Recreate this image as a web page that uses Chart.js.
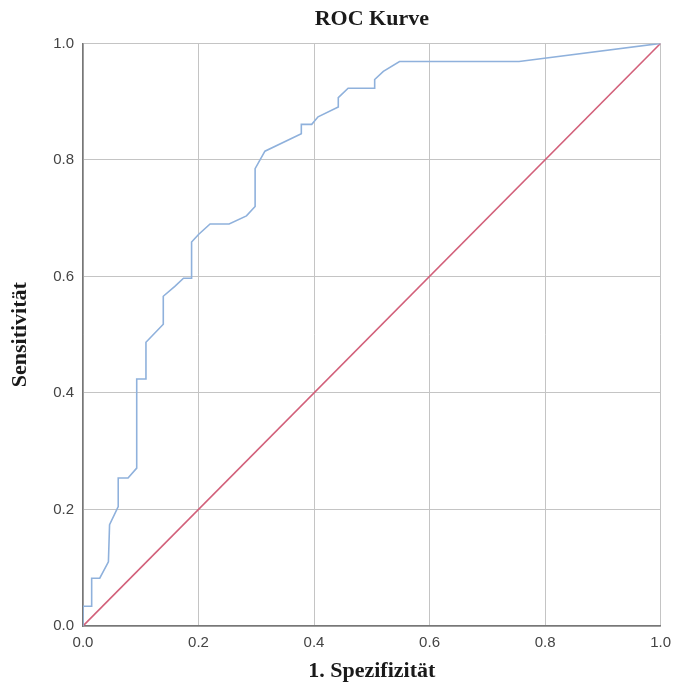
<!DOCTYPE html>
<html>
<head>
<meta charset="utf-8">
<script src="https://cdn.jsdelivr.net/npm/chart.js@4.4.1/dist/chart.umd.min.js"></script>
<style>
  html, body { margin: 0; padding: 0; background: #fff; }
  #wrap { width: 679px; height: 688px; }
</style>
</head>
<body>
<div id="wrap"><canvas id="rocChart" width="679" height="688"></canvas></div>
<script>
// ROC curve points
const falsePosRate = [0, 0, 0.015, 0.015, 0.029, 0.044, 0.046, 0.061, 0.061, 0.078,
    0.093, 0.093, 0.109, 0.109, 0.139, 0.139, 0.159, 0.174, 0.188, 0.188,
    0.2, 0.22, 0.253, 0.283, 0.298, 0.298, 0.315, 0.378, 0.378, 0.396,
    0.407, 0.442, 0.442, 0.459, 0.505, 0.505, 0.52, 0.548, 0.755, 1];
const truePosRate = [0, 0.034, 0.034, 0.082, 0.082, 0.11, 0.174, 0.205, 0.254, 0.254,
    0.271, 0.424, 0.424, 0.487, 0.518, 0.566, 0.583, 0.597, 0.597, 0.659,
    0.672, 0.69, 0.69, 0.704, 0.72, 0.785, 0.815, 0.845, 0.861, 0.861,
    0.874, 0.891, 0.907, 0.923, 0.923, 0.938, 0.952, 0.969, 0.969, 1];

// reference diagonal
const diagX = [0, 1];
const diagY = [0, 1];

const tickValues = [0, 0.2, 0.4, 0.6, 0.8, 1.0];

const toPoints = (xs, ys) => xs.map((x, i) => ({ x: x, y: ys[i] }));

const serif = 'Liberation Serif, Times New Roman, serif';
const sans = 'Liberation Sans, Arial, sans-serif';

const ctx = document.getElementById('rocChart').getContext('2d');

new Chart(ctx, {
    type: 'scatter',
    data: {
        datasets: [
            {
                label: 'ROC',
                data: toPoints(falsePosRate, truePosRate),
                showLine: true,
                borderColor: '#8fb1dc',
                borderWidth: 1.6,
                pointRadius: 0,
                tension: 0
            },
            {
                label: 'Diagonal',
                data: toPoints(diagX, diagY),
                showLine: true,
                borderColor: '#d2607a',
                borderWidth: 1.6,
                pointRadius: 0
            }
        ]
    },
    options: {
        responsive: false,
        animation: false,
        layout: { padding: { left: 0, right: 18, top: 0, bottom: 0 } },
        plugins: {
            legend: { display: false },
            tooltip: { enabled: false },
            title: {
                display: true,
                text: 'ROC Kurve',
                fullSize: false,
                color: '#1a1a1a',
                font: { family: serif, size: 22, weight: 'bold' },
                padding: { top: 6, bottom: 11 }
            }
        },
        scales: {
            x: {
                type: 'linear',
                min: 0,
                max: 1,
                afterBuildTicks: (s) => { s.ticks = tickValues.map(v => ({ value: v })); },
                afterFit: (s) => { s.height = 62; },
                grid: { color: '#c4c4c4', drawTicks: false, lineWidth: 1 },
                border: { color: '#777', width: 1.5 },
                ticks: {
                    padding: 8,
                    color: '#444',
                    font: { family: sans, size: 15 },
                    callback: (v) => Number(v).toFixed(1)
                },
                title: {
                    display: true,
                    text: '1. Spezifizität',
                    color: '#1a1a1a',
                    font: { family: serif, size: 22, weight: 'bold' },
                    padding: { top: 0, bottom: 3 }
                }
            },
            y: {
                type: 'linear',
                min: 0,
                max: 1,
                afterBuildTicks: (s) => { s.ticks = tickValues.map(v => ({ value: v })); },
                afterFit: (s) => { s.width = 83; },
                grid: { color: '#c4c4c4', drawTicks: false, lineWidth: 1 },
                border: { color: '#777', width: 1.5 },
                ticks: {
                    padding: 9,
                    color: '#444',
                    font: { family: sans, size: 15 },
                    callback: (v) => Number(v).toFixed(1)
                },
                title: {
                    display: true,
                    text: 'Sensitivität',
                    color: '#1a1a1a',
                    font: { family: serif, size: 22, weight: 'bold' },
                    padding: { top: 7, bottom: 0 }
                }
            }
        }
    }
});
</script>
</body>
</html>
